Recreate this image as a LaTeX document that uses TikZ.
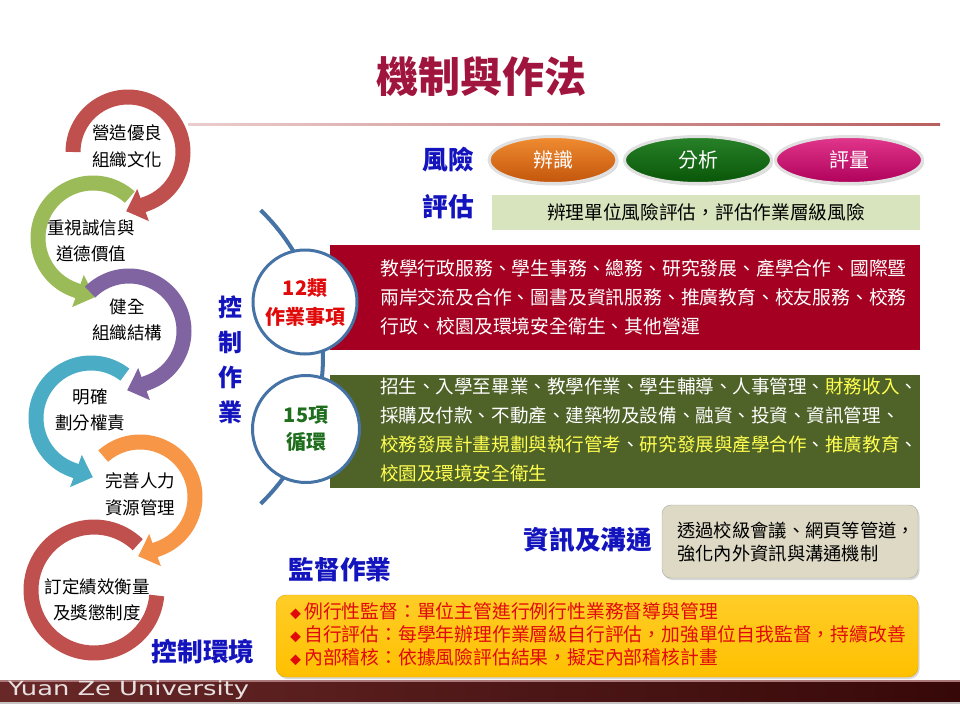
\documentclass[tikz,border=0pt]{standalone}
\usepackage{fontspec}
\usepackage{graphicx}
\setmainfont{Noto Sans CJK TC}
\newfontfamily\latinsans{DejaVu Sans}
\usetikzlibrary{arrows.meta,shapes.geometric,shadows}
\definecolor{cycred}{RGB}{192,80,77}
\definecolor{cycgreen}{RGB}{155,187,89}
\definecolor{cycpurple}{RGB}{128,100,162}
\definecolor{cyccyan}{RGB}{75,172,198}
\definecolor{cycorange}{RGB}{247,150,70}
\definecolor{headblue}{RGB}{20,20,190}
\definecolor{titlered}{RGB}{160,21,62}
\definecolor{boxred}{RGB}{165,0,33}
\definecolor{boxolive}{RGB}{79,98,40}
\definecolor{boxlight}{RGB}{215,228,189}
\definecolor{boxgray}{RGB}{221,217,196}
\definecolor{boxgrayline}{RGB}{170,170,160}
\definecolor{boxyellow}{RGB}{255,192,0}
\definecolor{boxyellowtop}{RGB}{255,205,40}
\definecolor{boxyellowline}{RGB}{225,165,0}
\definecolor{txtyellow}{RGB}{255,255,80}
\definecolor{txtred}{RGB}{225,10,10}
\definecolor{txtgreen}{RGB}{30,110,30}
\definecolor{ringblue}{RGB}{70,115,165}
\definecolor{footA}{RGB}{105,40,40}
\definecolor{footB}{RGB}{55,8,8}
\definecolor{footline}{RGB}{170,120,120}
\definecolor{footshadow}{RGB}{200,195,195}
\definecolor{foottext}{RGB}{232,225,225}
\definecolor{ruleA}{RGB}{235,205,205}
\definecolor{ruleB}{RGB}{185,95,95}
\definecolor{ovalOa}{RGB}{240,140,50}
\definecolor{ovalOb}{RGB}{195,85,10}
\definecolor{ovalGa}{RGB}{40,130,40}
\definecolor{ovalGb}{RGB}{8,85,8}
\definecolor{ovalPa}{RGB}{225,55,140}
\definecolor{ovalPb}{RGB}{175,0,90}
\newcommand\fs[2]{\fontsize{#1}{#2}\selectfont}
% color, cx, cy, r, start, end, direction(+1/-1)
\newcommand\cycarrow[7]{\draw[cycarc,#1] plot[domain=#5:#6,samples=80] ({#2+#4*cos(\x)},{#3+#4*sin(\x)}) -- ++({-22*(#7)*sin(#6)},{22*(#7)*cos(#6)});}
\begin{document}
\begin{tikzpicture}[x=1pt,y=-1pt,
  cycarc/.style={line width=15pt,-{Triangle[width=33pt,length=18pt]}},
  cyctext/.style={font=\fs{17.5}{26.5}, align=center, inner sep=0pt, text=black},
  heading/.style={font=\fs{25.7}{30}\bfseries, text=headblue, inner sep=0pt},
  oval/.style={ellipse, minimum height=47pt, draw=white!88!black, line width=3pt,
    drop shadow={opacity=0.3, shadow xshift=1.5pt, shadow yshift=-2pt},
    font=\fs{20}{24}, text=white, inner sep=0pt},
  ringcircle/.style={circle, draw=ringblue, line width=3pt, fill=white, inner sep=0pt, align=center}
]
\useasboundingbox (0,0) rectangle (960,720);
\fill[white] (0,0) rectangle (960,720);

% title
\node[font=\fs{42}{46}\bfseries, text=titlered, inner sep=0pt] (title) at (481,77) {機制與作法};
\shade[left color=ruleA, right color=ruleB] (188,123) rectangle (940,125.5);

% control environment cycle
\cycarrow{cycred}{128}{152}{55}{180}{430}{1}
\cycarrow{cycgreen}{93}{238}{55}{-48}{-250}{-1}
\cycarrow{cycpurple}{129}{331}{55}{225}{430}{1}
\cycarrow{cyccyan}{91}{418}{55}{-52}{-250}{-1}
\cycarrow{cycorange}{140}{497}{55}{228}{430}{1}
\draw[cycred, line width=15pt] plot[domain=-46:-355,samples=80] ({94+63*cos(\x)},{590+63*sin(\x)});

\node[cyctext] (env1) at (127,146.5) {營造優良\\組織文化};
\node[cyctext] (env2) at (91,241) {重視誠信與\\道德價值};
\node[cyctext] (env3) at (127,320) {健全\\組織結構};
\node[cyctext] (env4) at (90,410) {明確\\劃分權責};
\node[cyctext] (env5) at (140,494.5) {完善人力\\資源管理};
\node[cyctext] (env6) at (97,600) {訂定績效衡量\\及獎懲制度};
\node[heading] (envhead) at (203,652) {控制環境};

% control activities heading
\node[heading, font=\fs{24}{35}\bfseries, align=center] (acthead) at (230,359.5) {控\\制\\作\\業};

% risk assessment
\node[heading] (riskA) at (448,160) {風險};
\node[heading] (riskB) at (448,207) {評估};
\node[oval, minimum width=128pt, top color=ovalOa, bottom color=ovalOb] (ident) at (553,160) {辨識};
\node[oval, minimum width=147pt, top color=ovalGa, bottom color=ovalGb] (analy) at (698,160) {分析};
\node[oval, minimum width=147pt, top color=ovalPa, bottom color=ovalPb] (evalu) at (849,160) {評量};
\node[fill=boxlight, minimum width=428pt, minimum height=35pt, inner sep=0pt, font=\fs{18.7}{22}] (riskbox) at (706,212.5) {辨理單位風險評估，評估作業層級風險};

% activity boxes
\node[fill=boxred, minimum width=590pt, minimum height=105pt, anchor=north west, inner sep=0pt] (redbox) at (330,245) {};
\node[anchor=west, align=left, inner sep=0pt, text=white, font=\fs{18.8}{29}] (redtext) at (380,297) {教學行政服務、學生事務、總務、研究發展、產學合作、國際暨\\兩岸交流及合作、圖書及資訊服務、推廣教育、校友服務、校務\\行政、校園及環境安全衛生、其他營運};
\node[fill=boxolive, minimum width=590pt, minimum height=113pt, anchor=north west, inner sep=0pt] (greenbox) at (330,375) {};
\node[anchor=west, align=left, inner sep=0pt, text=white, font=\fs{18.55}{29}] (greentext) at (380,429.5) {招生、入學至畢業、教學作業、學生輔導、人事管理、{\color{txtyellow}財務收入}、\\採購及付款、不動產、建築物及設備、融資、投資、資訊管理、\\{\color{txtyellow}校務發展計畫規劃與執行管考}、{\color{txtyellow}研究發展與產學合作}、{\color{txtyellow}推廣教育}、\\{\color{txtyellow}校園及環境安全衛生}};

% big arc and circles
\draw[ringblue, line width=4pt] plot[domain=-46:46, samples=60] ({119+204*cos(\x)},{357+204*sin(\x)});
\node[ringcircle, minimum size=104pt, text=txtred, font=\fs{20}{29}\bfseries] (cat12) at (305,302) {12類\\作業事項};
\node[ringcircle, minimum size=107pt, text=txtgreen, font=\fs{20}{27}\bfseries] (cyc15) at (306,429) {15項\\循環};

% information & communication
\node[heading] (infohead) at (588,540) {資訊及溝通};
\node[draw=boxgrayline, fill=boxgray, rounded corners=9pt, minimum width=256pt, minimum height=73pt, inner sep=0pt,
  drop shadow={opacity=0.3, shadow xshift=1.5pt, shadow yshift=-2pt}] (infobox) at (790,541.5) {};
\node[anchor=west, align=left, inner sep=0pt, font=\fs{18.3}{22.5}] (infotext) at (677,542) {透過校級會議、網頁等管道，\\強化內外資訊與溝通機制};

% monitoring
\node[heading] (monhead) at (340,570) {監督作業};
\node[draw=boxyellowline, top color=boxyellowtop, bottom color=boxyellow, rounded corners=10pt, minimum width=642pt, minimum height=82pt, inner sep=0pt,
  drop shadow={opacity=0.3, shadow xshift=1.5pt, shadow yshift=-2pt}] (monbox) at (597,636) {};
\node[anchor=west, align=left, inner sep=0pt, text=txtred, font=\fs{18.8}{23}] (montext) at (290,634) {{\fs{11}{11}◆}\,例行性監督：單位主管進行例行性業務督導與管理\\{\fs{11}{11}◆}\,自行評估：每學年辦理作業層級自行評估，加強單位自我監督，持續改善\\{\fs{11}{11}◆}\,內部稽核：依據風險評估結果，擬定內部稽核計畫};

% footer
\fill[footshadow] (0,701) rectangle (960,704);
\shade[left color=footA, right color=footB] (0,680) rectangle (960,701);
\fill[footline] (0,680) rectangle (960,681.5);
\node[anchor=west, inner sep=0pt, text=foottext, font=\latinsans\fs{19.5}{20}] (footer) at (8,690.5) {\scalebox{1.32}[1]{Yuan Ze University}};
\end{tikzpicture}
\end{document}
